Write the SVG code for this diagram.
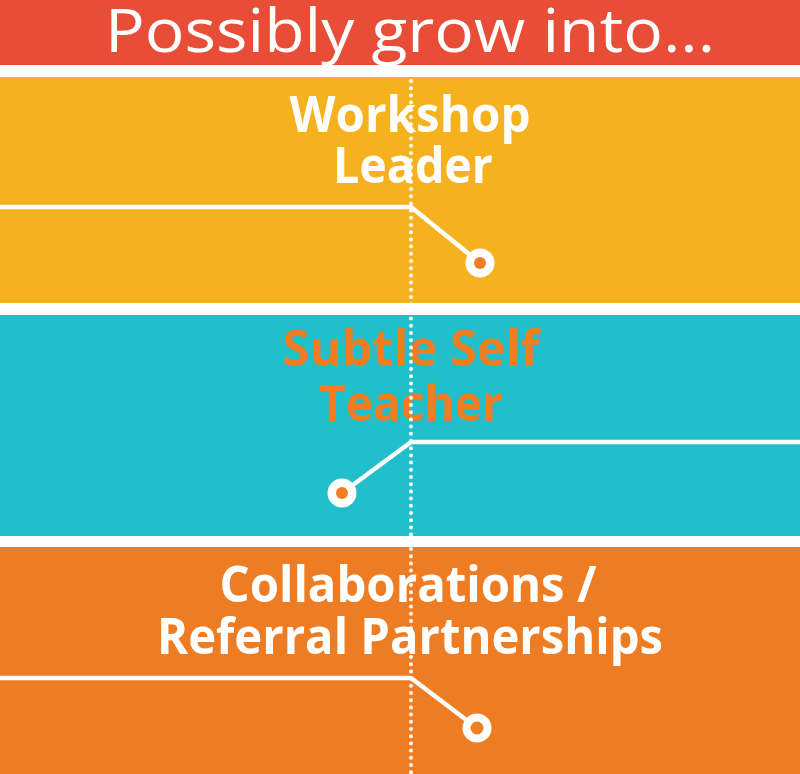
<svg xmlns="http://www.w3.org/2000/svg" width="800" height="774" viewBox="0 0 800 774">
<style>
.title{font-family:"Open Sans","Noto Sans","Liberation Sans",sans-serif;font-weight:400;font-size:60px;fill:#ffffff;text-anchor:middle}
.lbl{font-family:"Open Sans","Noto Sans","Liberation Sans",sans-serif;font-weight:700;font-size:51px;text-anchor:middle}
.w{fill:#ffffff}
.o{fill:#f07d22}
.wire{fill:none;stroke:#ffffff;stroke-width:4.5;stroke-linejoin:round;stroke-linecap:round}
.dots{fill:none;stroke:#ffffff;stroke-width:4;stroke-linecap:round;stroke-dasharray:0 7.2}
.ring{fill:#ffffff}
.hole{fill:#ef7d22}
</style>
<rect x="0" y="0" width="800" height="774" fill="#ffffff"/>
<g id="header">
<rect x="0" y="0" width="800" height="65" fill="#e84d37"/>
<text class="title" x="410" y="52" textLength="610" lengthAdjust="spacingAndGlyphs">Possibly grow into...</text>
</g>
<g id="node-workshop-leader">
<rect x="0" y="77" width="800" height="226" fill="#f6b11f"/>
<text class="lbl w" x="410" y="132" textLength="241" lengthAdjust="spacingAndGlyphs">Workshop</text>
<text class="lbl w" x="413" y="183" textLength="160" lengthAdjust="spacingAndGlyphs">Leader</text>
</g>
<g id="node-subtle-self-teacher">
<rect x="0" y="315" width="800" height="221" fill="#21bfca"/>
<text class="lbl o" x="411" y="366" textLength="257" lengthAdjust="spacingAndGlyphs">Subtle Self</text>
<text class="lbl o" x="411" y="421" textLength="184" lengthAdjust="spacingAndGlyphs">Teacher</text>
</g>
<g id="node-collaborations">
<rect x="0" y="547" width="800" height="227" fill="#ee7c23"/>
<text class="lbl w" x="408" y="602" textLength="377" lengthAdjust="spacingAndGlyphs">Collaborations /</text>
<text class="lbl w" x="410" y="654" textLength="506" lengthAdjust="spacingAndGlyphs">Referral Partnerships</text>
</g>
<g id="connectors">
<line class="dots" x1="411" y1="81" x2="411" y2="774"/>
<polyline class="wire" points="0,207 411,207 480,263"/>
<circle class="ring" cx="480" cy="263" r="14.5"/>
<circle class="hole" cx="480" cy="263" r="6"/>
<polyline class="wire" points="800,442 411,442 342,493"/>
<circle class="ring" cx="342" cy="493" r="14.5"/>
<circle class="hole" cx="342" cy="493" r="6"/>
<polyline class="wire" points="0,678 411,678 477,728"/>
<circle class="ring" cx="477" cy="728" r="14.5"/>
<circle class="hole" cx="477" cy="728" r="6.5"/>
</g>
</svg>
